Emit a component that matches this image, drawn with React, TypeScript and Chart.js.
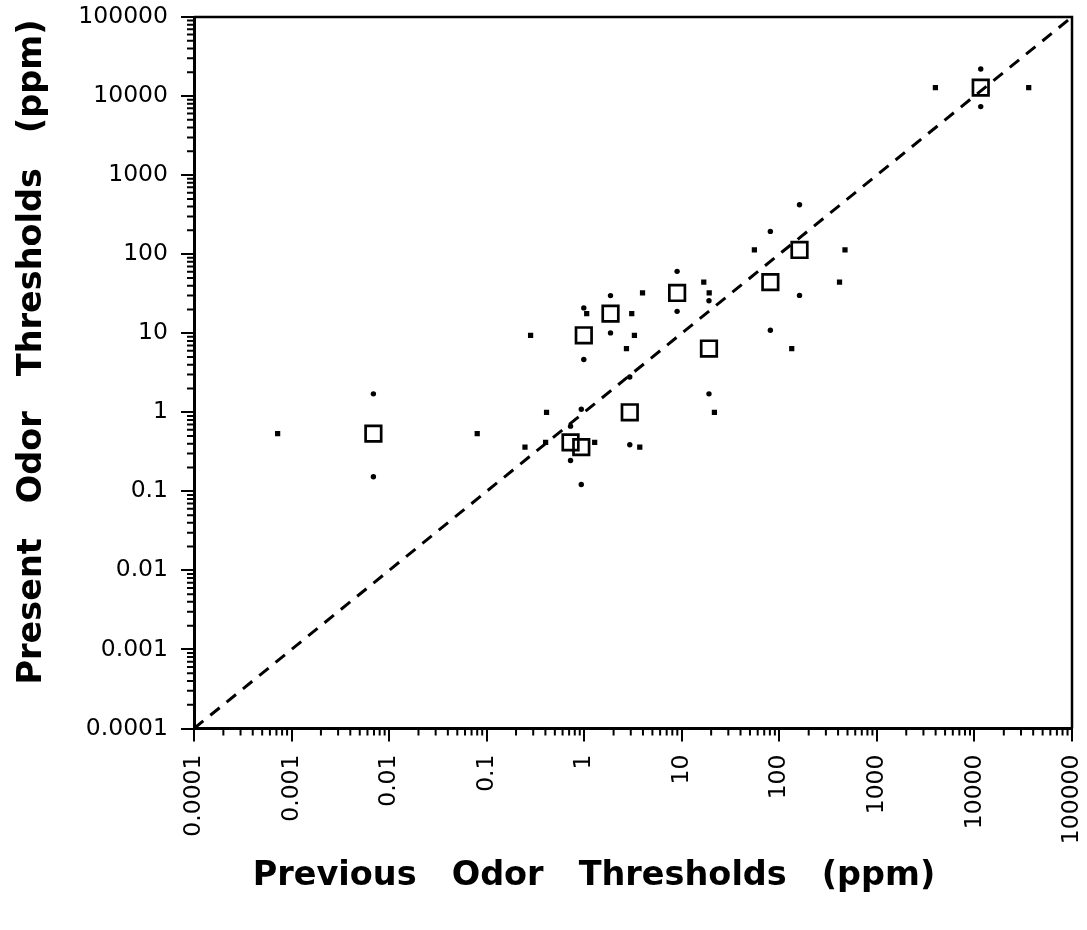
import React, { useEffect, useRef } from 'react';
import { Chart, registerables } from 'chart.js';

Chart.register(...registerables);

// Geometric-mean odor thresholds (ppm) for each compound
const previousThreshold = [0.0069, 11600, 161, 80.9, 19.0, 8.96, 1.86, 0.99, 2.93, 0.724, 0.933];
const presentThreshold = [0.536, 12800, 113, 44.3, 6.4, 32.3, 17.7, 9.42, 1.0, 0.416, 0.362];
// Range of previous thresholds (drawn as small squares at the present value)
const previousLow = [0.00072, 3980, 55.5, 16.8, 2.71, 3.96, 1.06, 0.282, 0.411, 0.402, 0.247];
const previousHigh = [0.08, 36000, 471, 414, 134, 19.1, 3.07, 3.27, 21.6, 1.28, 3.71];
// Range of present thresholds (drawn as small dots at the previous value)
const presentLow = [0.153, 7360, 30.1, 10.9, 1.71, 18.9, 10.1, 4.65, 0.389, 0.246, 0.122];
const presentHigh = [1.71, 22000, 422, 194, 25.8, 60.6, 29.9, 20.9, 2.79, 0.668, 1.09];

// Identity line endpoints
const identityLine = [0.0001, 100000];

// Axis ticks
const majorTicks = [0.0001, 0.001, 0.01, 0.1, 1, 10, 100, 1000, 10000, 100000];
const tickLabels = ['0.0001', '0.001', '0.01', '0.1', '1', '10', '100', '1000', '10000', '100000'];
const minorMultipliers = [2, 3, 4, 5, 6, 7, 8, 9];

const xTitle = 'Previous   Odor   Thresholds   (ppm)';
const yTitle = 'Present   Odor   Thresholds   (ppm)';

const FONT = '"DejaVu Sans", sans-serif';

const minorTickPlugin = {
  id: 'minorTicksAndFrame',
  afterDraw(chart: any) {
    const { ctx, chartArea, scales } = chart;
    const xs = scales.x;
    const ys = scales.y;
    ctx.save();
    ctx.strokeStyle = '#000';
    ctx.lineWidth = 2;
    ctx.beginPath();
    for (let i = 0; i < majorTicks.length - 1; i++) {
      for (const m of minorMultipliers) {
        const v = majorTicks[i] * m;
        const px = xs.getPixelForValue(v);
        ctx.moveTo(px, chartArea.bottom);
        ctx.lineTo(px, chartArea.bottom + 7);
        const py = ys.getPixelForValue(v);
        ctx.moveTo(chartArea.left, py);
        ctx.lineTo(chartArea.left - 7, py);
      }
    }
    ctx.stroke();
    ctx.lineWidth = 2.5;
    ctx.beginPath();
    ctx.moveTo(chartArea.left, chartArea.top);
    ctx.lineTo(chartArea.right, chartArea.top);
    ctx.lineTo(chartArea.right, chartArea.bottom);
    ctx.stroke();

    // Axis titles
    ctx.fillStyle = '#000';
    ctx.font = `bold 33.5px ${FONT}`;
    ctx.textAlign = 'center';
    ctx.textBaseline = 'alphabetic';
    ctx.fillText(xTitle, 594, 885);
    ctx.translate(41, 352);
    ctx.rotate(-Math.PI / 2);
    ctx.fillText(yTitle, 0, 0);
    ctx.restore();
  },
};

export default function App() {
  const canvasRef = useRef<HTMLCanvasElement | null>(null);

  useEffect(() => {
    if (!canvasRef.current) return;

    const meanPoints = previousThreshold.map((x, i) => ({ x, y: presentThreshold[i] }));
    const prevRangePoints = previousLow
      .map((x, i) => ({ x, y: presentThreshold[i] }))
      .concat(previousHigh.map((x, i) => ({ x, y: presentThreshold[i] })));
    const presentRangePoints = presentLow
      .map((y, i) => ({ x: previousThreshold[i], y }))
      .concat(presentHigh.map((y, i) => ({ x: previousThreshold[i], y })));
    const linePoints = identityLine.map((v) => ({ x: v, y: v }));

    const makeAxis = (isX: boolean) => ({
      type: 'logarithmic' as const,
      position: isX ? ('bottom' as const) : ('left' as const),
      min: 0.0001,
      max: 100000,
      afterBuildTicks: (scale: any) => {
        scale.ticks = majorTicks.map((v) => ({ value: v }));
      },
      afterFit: (scale: any) => {
        if (isX) scale.height = 930 - 728.5;
        else scale.width = 194;
        scale.paddingTop = 0;
        scale.paddingBottom = 0;
        scale.paddingLeft = 0;
        scale.paddingRight = 0;
      },
      border: { display: true, color: '#000', width: 3 },
      grid: {
        display: true,
        drawOnChartArea: false,
        drawTicks: true,
        tickLength: 13,
        tickWidth: 2,
        tickColor: '#000',
        lineWidth: 2,
        color: '#000',
      },
      ticks: {
        autoSkip: false,
        color: '#000',
        padding: 13,
        font: { family: FONT, size: 23.5 },
        maxRotation: isX ? 90 : 0,
        minRotation: isX ? 90 : 0,
        callback: (_v: any, index: number) => tickLabels[index],
      },
      title: { display: false },
    });

    const chart = new Chart(canvasRef.current, {
      type: 'scatter',
      data: {
        datasets: [
          {
            label: 'Geometric mean',
            data: meanPoints,
            pointStyle: 'rect',
            pointRadius: 11,
            borderWidth: 2.7,
            borderColor: '#000',
            backgroundColor: 'rgba(0,0,0,0)',
          },
          {
            label: 'Previous range',
            data: prevRangePoints,
            pointStyle: 'rect',
            pointRadius: 3.7,
            borderWidth: 0,
            backgroundColor: '#000',
          },
          {
            label: 'Present range',
            data: presentRangePoints,
            pointStyle: 'circle',
            pointRadius: 2.7,
            borderWidth: 0,
            backgroundColor: '#000',
          },
          {
            label: 'Identity',
            data: linePoints,
            showLine: true,
            pointRadius: 0,
            borderColor: '#000',
            borderWidth: 3,
            borderDash: [12, 9],
            fill: false,
          } as any,
        ],
      },
      options: {
        responsive: false,
        devicePixelRatio: 1,
        animation: false,
        events: [],
        layout: { padding: { top: 17, right: 15, left: 0, bottom: 0 } },
        plugins: {
          legend: { display: false },
          tooltip: { enabled: false },
          title: { display: false },
        },
        scales: {
          x: makeAxis(true),
          y: makeAxis(false),
        },
      } as any,
      plugins: [minorTickPlugin],
    });

    return () => chart.destroy();
  }, []);

  return (
    <div style={{ position: 'absolute', left: 0, top: 0, width: 1087, height: 930, background: '#fff' }}>
      <canvas ref={canvasRef} width={1087} height={930} style={{ display: 'block' }} />
    </div>
  );
}
